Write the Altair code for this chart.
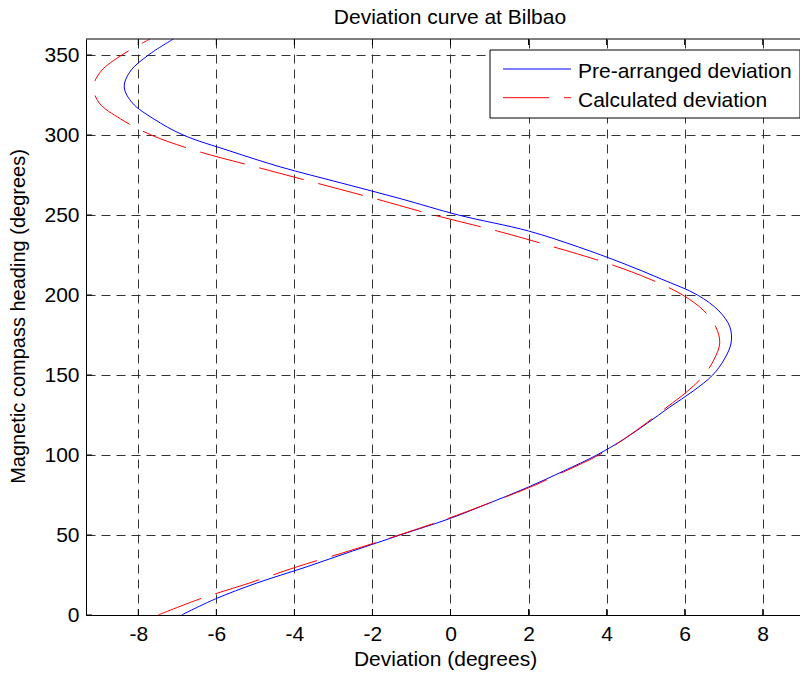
import altair as alt
import pandas as pd

# ---- data ----
headings = list(range(0, 361, 10))
pre_arranged = [-6.89, -6.03, -4.96, -3.70, -2.51, -1.29, -0.05, 1.00, 2.00, 2.90,
                3.75, 4.45, 5.05, 5.62, 6.22, 6.72, 7.02, 7.19, 7.16, 6.88,
                6.33, 5.40, 4.40, 3.28, 2.00, 0.20, -1.25, -2.80, -4.35, -5.65,
                -6.85, -7.60, -8.15, -8.36, -8.20, -7.74, -7.10]
calculated = [-7.49, -6.43, -5.15, -3.95, -2.60, -1.32, -0.10, 1.00, 2.05, 2.95,
              3.80, 4.45, 5.02, 5.55, 6.08, 6.50, 6.76, 6.90, 6.80, 6.50,
              5.95, 5.10, 4.00, 2.65, 1.20, -0.43, -1.90, -3.44, -4.98, -6.50,
              -7.67, -8.45, -9.00, -9.15, -8.95, -8.42, -7.70]
series_names = ["Pre-arranged deviation", "Calculated deviation"]
series_colors = ["#0000ff", "#ff0000"]
x_ticks = [-8, -6, -4, -2, 0, 2, 4, 6, 8]
y_ticks = [0, 50, 100, 150, 200, 250, 300, 350]
x_domain = [-9.34, 8.956]
y_domain = [0, 360]
chart_title = "Deviation curve at Bilbao"

W, H = 714, 576
FONT = "Liberation Sans"
RED_DASH = [46, 15]

df_pre = pd.DataFrame({"heading": headings, "deviation": pre_arranged})
df_calc = pd.DataFrame({"heading": headings, "deviation": calculated})
xt = pd.DataFrame({"deviation": x_ticks})
yt = pd.DataFrame({"heading": y_ticks})
one = pd.DataFrame({"a": [0]})

xscale = alt.Scale(domain=x_domain, nice=False, zero=False)
yscale = alt.Scale(domain=y_domain, nice=False, zero=False)

x_axis = alt.Axis(values=x_ticks, grid=True, gridDash=[9, 6], gridColor="#333333",
                  gridWidth=1, ticks=False, domainColor="black", domainWidth=1,
                  labelFont=FONT, labelFontSize=21, labelColor="black", labelPadding=8,
                  labelExpr="'' + datum.value",
                  title="Deviation (degrees)", titleFont=FONT, titleFontSize=21,
                  titleFontWeight="normal", titleColor="black",
                  titleX=359, titleY=50, titleBaseline="alphabetic", titleAlign="center")
y_axis = alt.Axis(values=y_ticks, grid=True, gridDash=[9, 6], gridColor="#333333",
                  gridWidth=1, ticks=False, domainColor="black", domainWidth=1,
                  labelFont=FONT, labelFontSize=21, labelColor="black", labelPadding=7,
                  labelExpr="'' + datum.value",
                  title="Magnetic compass heading (degrees)", titleFont=FONT, titleFontSize=20,
                  titleFontWeight="normal", titleColor="black", titleAngle=270,
                  titleX=-61.5, titleY=277, titleBaseline="alphabetic", titleAlign="center")

X = alt.X("deviation:Q", scale=xscale, axis=x_axis)
Y = alt.Y("heading:Q", scale=yscale, axis=y_axis)

blue = alt.Chart(df_pre).mark_line(color=series_colors[0], strokeWidth=1,
                                   interpolate="catmull-rom").encode(
    x=X, y=Y, order="heading:Q")

red = alt.Chart(df_calc).mark_line(color=series_colors[1], strokeWidth=1,
                                   strokeDash=RED_DASH, interpolate="catmull-rom").encode(
    x=X, y=Y, order="heading:Q")

xt_bottom = alt.Chart(xt).mark_rule(color="black", strokeWidth=1).encode(
    x=X, y=alt.value(H), y2=alt.value(H - 6))
xt_top = alt.Chart(xt).mark_rule(color="black", strokeWidth=1).encode(
    x=X, y=alt.value(0), y2=alt.value(6))
yt_left = alt.Chart(yt).mark_rule(color="black", strokeWidth=1).encode(
    y=Y, x=alt.value(0), x2=alt.value(6))
top_border = alt.Chart(one).mark_rule(color="black", strokeWidth=1).encode(
    x=alt.value(0), x2=alt.value(W), y=alt.value(0))

title_mark = alt.Chart(one).mark_text(font=FONT, fontSize=21, color="black", align="center",
                                      baseline="alphabetic").encode(
    x=alt.value(364), y=alt.value(-15), text=alt.value(chart_title))

# legend box
lx0, lx1, ly0, ly1 = 404, W, 11, 79
leg_box = alt.Chart(one).mark_rect(fill="white", stroke="black", strokeWidth=1).encode(
    x=alt.value(lx0), x2=alt.value(lx1), y=alt.value(ly0), y2=alt.value(ly1))
leg_blue = alt.Chart(one).mark_rule(color=series_colors[0], strokeWidth=1).encode(
    x=alt.value(417), x2=alt.value(485), y=alt.value(30))
leg_red = alt.Chart(one).mark_rule(color=series_colors[1], strokeWidth=1,
                                   strokeDash=RED_DASH).encode(
    x=alt.value(417), x2=alt.value(485), y=alt.value(58.7))
leg_t1 = alt.Chart(one).mark_text(font=FONT, fontSize=21, color="black", align="left",
                                  baseline="alphabetic").encode(
    x=alt.value(492), y=alt.value(39.3), text=alt.value(series_names[0]))
leg_t2 = alt.Chart(one).mark_text(font=FONT, fontSize=21, color="black", align="left",
                                  baseline="alphabetic").encode(
    x=alt.value(492), y=alt.value(68), text=alt.value(series_names[1]))

chart = alt.layer(
    blue, red, xt_bottom, xt_top, yt_left, top_border, title_mark,
    leg_box, leg_blue, leg_red, leg_t1, leg_t2
).properties(
    width=W, height=H,
    padding={"left": 78, "top": 31, "right": 0, "bottom": 60},
    autosize=alt.AutoSizeParams(type="none"),
    background="white",
).configure_view(strokeWidth=0)

chart.save("out.html", embed_options={"renderer": "svg", "actions": False})
